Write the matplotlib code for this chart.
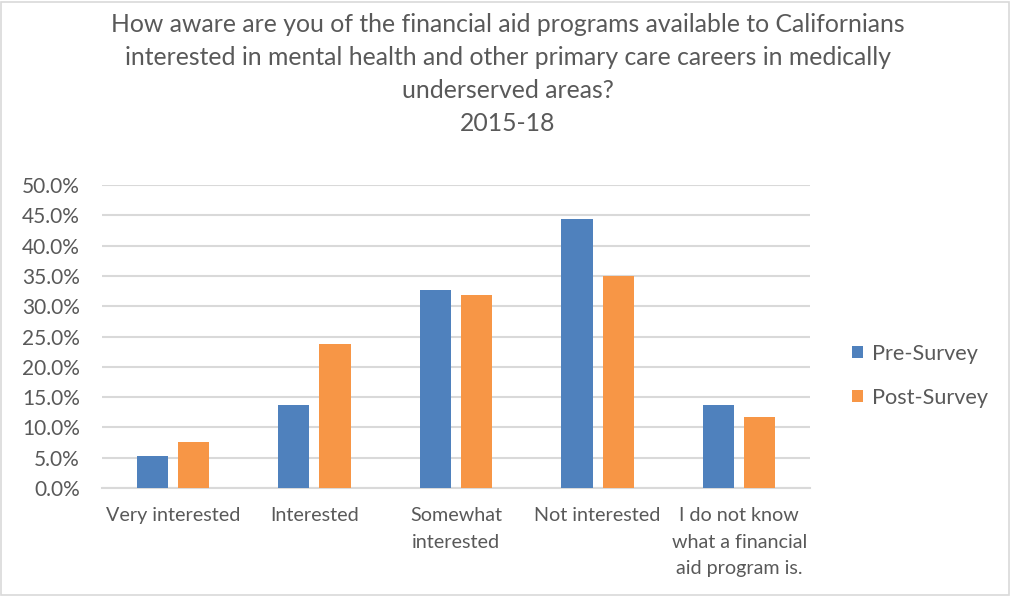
import matplotlib.pyplot as plt
import numpy as np
from matplotlib.patches import Rectangle
from matplotlib.ticker import PercentFormatter

plt.rcParams['font.family'] = ['Lato', 'DejaVu Sans']

# Survey results (share of respondents, %)
categories = ["Very interested", "Interested", "Somewhat\ninterested",
              "Not interested", "I do not know\nwhat a financial\naid program is."]
pre_survey = [5.2, 13.7, 32.7, 44.4, 13.7]
post_survey = [7.6, 23.8, 31.8, 35.0, 11.7]

title = ("How aware are you of the financial aid programs available to Californians\n"
         "interested in mental health and other primary care careers in medically\n"
         "underserved areas?\n2015-18")

text_gray = "#595959"
grid_gray = "#D9D9D9"

fig = plt.figure(figsize=(10.12, 5.97), dpi=100)
ax = fig.add_axes([0.1008, 0.1826, 0.6996, 0.5074])

x = np.arange(len(categories))
w = 0.22
ax.bar(x - 0.145, pre_survey, w, color="#4F81BD", label="Pre-Survey", zorder=3)
ax.bar(x + 0.145, post_survey, w, color="#F79646", label="Post-Survey", zorder=3)

ax.set_xlim(-0.5, len(categories) - 0.5)
ax.set_ylim(0, 50)
ax.set_yticks(np.arange(0, 50.1, 5))
ax.yaxis.set_major_formatter(PercentFormatter(decimals=1))
ax.grid(axis="y", color=grid_gray, linewidth=1.5, zorder=0)
for s in ["top", "right", "left"]:
    ax.spines[s].set_visible(False)
ax.spines["bottom"].set_color(grid_gray)
ax.spines["bottom"].set_linewidth(1.5)

ax.set_xticks(x)
ax.set_xticklabels(categories, fontsize=14.2, color=text_gray, linespacing=1.65,
                   va="top")
ax.tick_params(axis="x", length=0, pad=14)
ax.tick_params(axis="y", length=0, pad=16, labelsize=15, labelcolor=text_gray)

fig.text(0.502, 0.979, title, ha="center", va="top", fontsize=17.8,
         color=text_gray, linespacing=1.53)

ax.legend(loc="center left", bbox_to_anchor=(1.059, 0.37), frameon=False,
          fontsize=15.6, labelcolor=text_gray, handlelength=0.5,
          handleheight=0.5, handletextpad=0.45, labelspacing=1.1,
          borderpad=0, borderaxespad=0)

fig.patches.append(Rectangle((0.001, 0.003), 0.996, 0.994, transform=fig.transFigure,
                             fill=False, edgecolor=grid_gray, linewidth=1.2))

fig.savefig("out.png", dpi=100)
